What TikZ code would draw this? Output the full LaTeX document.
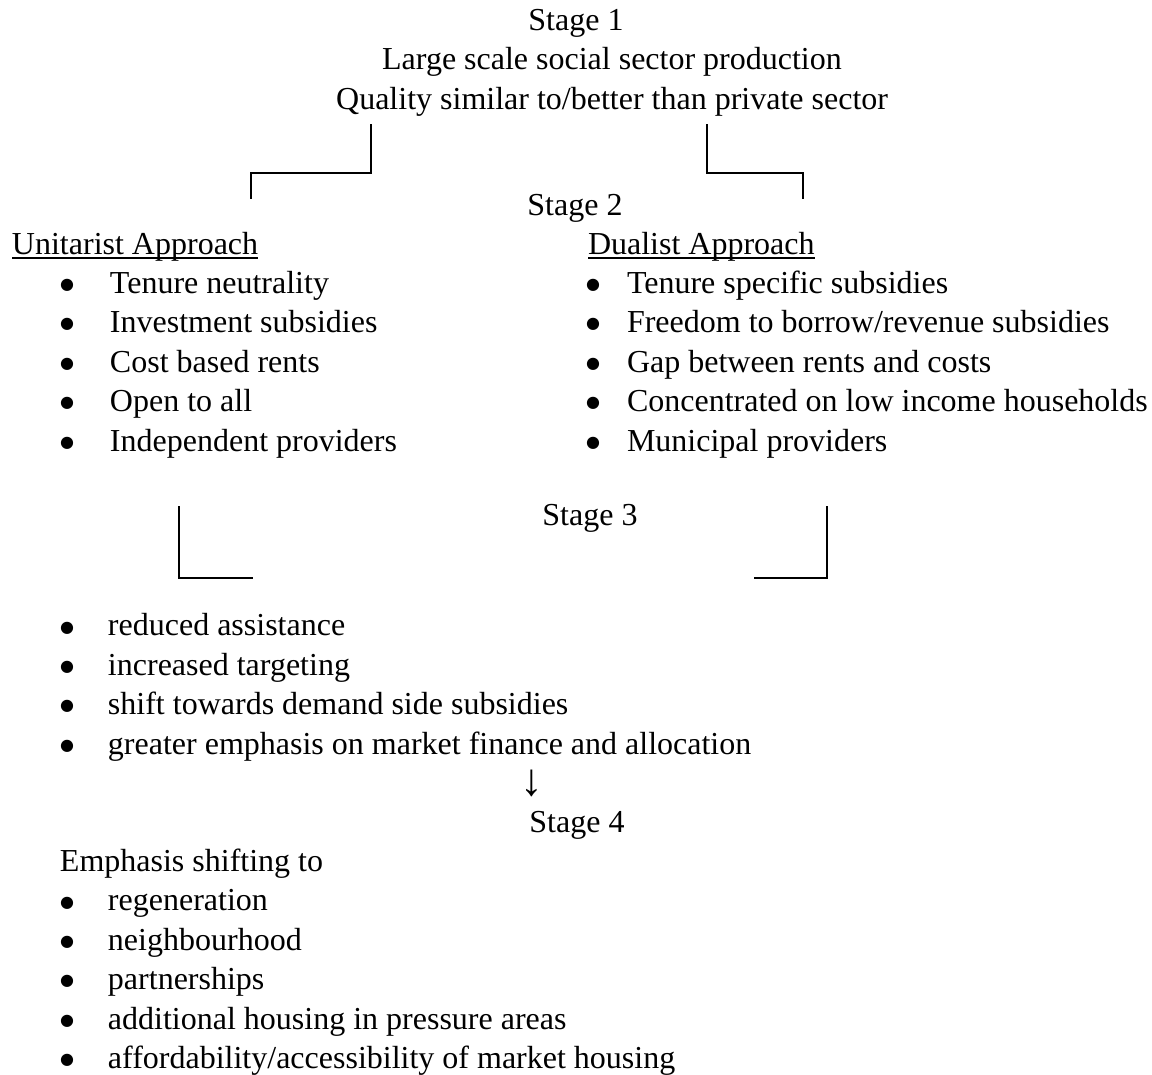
\documentclass[tikz,border=0pt]{standalone}
\usepackage{fontspec}
\setmainfont{Liberation Serif}
\newfontfamily\bulfont{DejaVu Sans}
\begin{document}
\begin{tikzpicture}[x=0.375pt,y=-0.375pt,
  every node/.style={inner sep=0pt,outer sep=0pt,font=\fontsize{12}{14}\selectfont},
  lt/.style={anchor=base west},
  rt/.style={anchor=base east},
  ct/.style={anchor=base},
  bul/.style={anchor=center,font=\bulfont\fontsize{6}{7}\selectfont,yshift=3pt},
  conn/.style={line width=0.8pt,line cap=rect},
  uline/.style={line width=0.75pt}]
\useasboundingbox (0,0) rectangle (1152,1074);
% Stage 1
\node[ct] (s1) at (576,30) {Stage 1};
\node[ct] (s1a) at (612,69.5) {Large scale social sector production};
\node[rt] (s1b) at (888,109) {Quality similar to/better than private sector};
% top connectors
\coordinate (tl1) at (371,125); \coordinate (tl2) at (371,173);
\coordinate (tl3) at (251,173); \coordinate (tl4) at (251,198);
\coordinate (tr1) at (707,125); \coordinate (tr2) at (707,173);
\coordinate (tr3) at (803,173); \coordinate (tr4) at (803,198);
\draw[conn] (tl1) -- (tl2) -- (tl3) -- (tl4);
\draw[conn] (tr1) -- (tr2) -- (tr3) -- (tr4);
% Stage 2
\node[ct] (s2) at (575,215) {Stage 2};
\node[lt] (ua) at (12,254) {Unitarist Approach};
\node[lt] (da) at (588,254) {Dualist Approach};
\draw[uline] ([yshift=-1.4pt]ua.base west) -- ([yshift=-1.4pt]ua.base east);
\draw[uline] ([yshift=-1.4pt]da.base west) -- ([yshift=-1.4pt]da.base east);
\foreach \t [count=\i] in {Tenure neutrality,Investment subsidies,Cost based rents,Open to all,Independent providers}{
  \node[bul] (ub\i) at (67,{254+39.4*\i}) {●};
  \node[lt] (ut\i) at (110,{254+39.4*\i}) {\t};
}
\foreach \t [count=\i] in {Tenure specific subsidies,Freedom to borrow/revenue subsidies,Gap between rents and costs,Concentrated on low income households,Municipal providers}{
  \node[bul] (db\i) at (593,{254+39.4*\i}) {●};
  \node[lt] (dt\i) at (627,{254+39.4*\i}) {\t};
}
% Stage 3
\node[ct] (s3) at (590,525) {Stage 3};
\coordinate (bl1) at (179,507); \coordinate (bl2) at (179,578); \coordinate (bl3) at (252,578);
\coordinate (br1) at (827,507); \coordinate (br2) at (827,578); \coordinate (br3) at (755,578);
\draw[conn] (bl1) -- (bl2) -- (bl3);
\draw[conn] (br1) -- (br2) -- (br3);
\foreach \t [count=\i] in {reduced assistance,increased targeting,shift towards demand side subsidies,greater emphasis on market finance and allocation}{
  \node[bul] (tb\i) at (67,{596.5+39.4*\i}) {●};
  \node[lt] (tt\i) at (108,{596.5+39.4*\i}) {\t};
}
\node[anchor=center,font=\fontsize{17}{17}\selectfont] (arr) at (532,783) {↓};
% Stage 4
\node[ct] (s4) at (577,832) {Stage 4};
\node[lt] (em) at (60,871.5) {Emphasis shifting to};
\foreach \t [count=\i] in {regeneration,neighbourhood,partnerships,additional housing in pressure areas,affordability/accessibility of market housing}{
  \node[bul] (fb\i) at (67,{871.5+39.4*\i}) {●};
  \node[lt] (ft\i) at (108,{871.5+39.4*\i}) {\t};
}
\end{tikzpicture}
\end{document}
